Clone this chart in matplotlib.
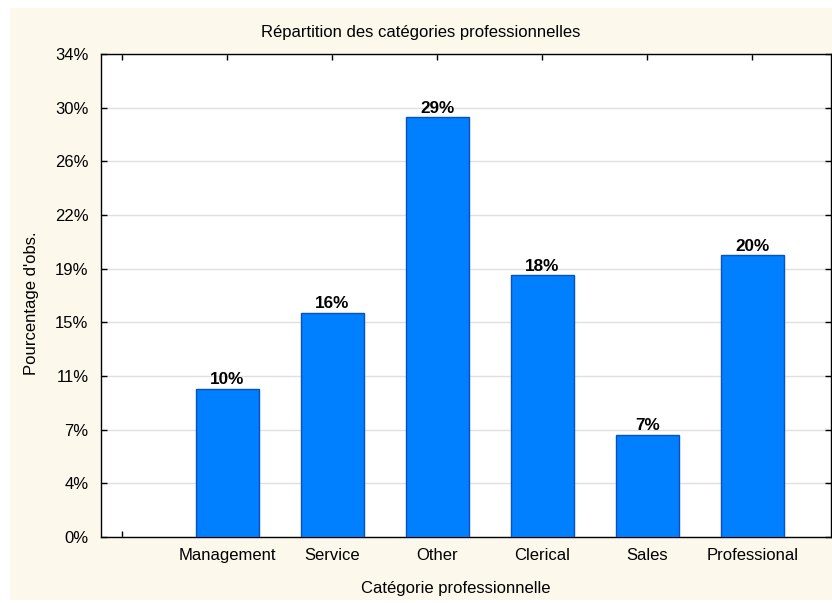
import matplotlib
matplotlib.use("Agg")
import matplotlib.pyplot as plt
from matplotlib.patches import Rectangle

categories = ["Management", "Service", "Other", "Clerical", "Sales", "Professional"]
values = [10.3, 15.6, 29.2, 18.2, 7.1, 19.6]
bar_labels = ["10%", "16%", "29%", "18%", "7%", "20%"]
ytick_labels = ["0%", "4%", "7%", "11%", "15%", "19%", "22%", "26%", "30%", "34%"]
ymax = 33.6

plt.rcParams['font.family'] = ['Liberation Sans', 'DejaVu Sans']
FS = 12

fig = plt.figure(figsize=(8.32, 6.03), dpi=100, facecolor='white')
bg = Rectangle((10/832, 3/603), 822/832, 592/603, transform=fig.transFigure,
               facecolor='#FDF8EC', edgecolor='none', zorder=-10)
fig.patches.append(bg)

ax = fig.add_axes([101/832, 1-537/603, 730/832, 483/603], zorder=5)
ax.set_facecolor('white')

xs = list(range(1, len(categories) + 1))
ax.bar(xs, values, width=0.6, color='#0080FF', edgecolor='#0A4FC4', linewidth=1.0, zorder=3)
for x, v, lab in zip(xs, values, bar_labels):
    ax.text(x, v + 0.12, lab, ha='center', va='bottom', fontsize=12.3, fontweight='bold', zorder=4)

step = ymax / 9
yt = [i * step for i in range(10)]
ax.set_ylim(0, ymax)
ax.set_yticks(yt)
ax.set_yticklabels(ytick_labels, fontsize=FS)
ax.set_xlim(-0.2, 6.75)
ax.set_xticks([0] + xs)
ax.set_xticklabels([""] + categories, fontsize=FS)

ax.grid(axis='y', color='#E0E0E0', linewidth=1.0, zorder=0)
ax.set_axisbelow(True)
ax.tick_params(direction='in', top=True, right=True, length=4, width=1, pad=8)
ax.tick_params(axis='y', pad=9)
for s in ax.spines.values():
    s.set_linewidth(1.0)
    s.set_color('black')

fig.text(421/832, 1-32/603, "Répartition des catégories professionnelles", ha='center', va='center', fontsize=FS)
fig.text(456/832, 1-589/603, "Catégorie professionnelle", ha='center', va='center', fontsize=FS)
fig.text(32/832, 1-303/603, "Pourcentage d'obs.", ha='center', va='center', rotation=90, fontsize=FS)

fig.savefig("out.png", dpi=100, facecolor=fig.get_facecolor())
